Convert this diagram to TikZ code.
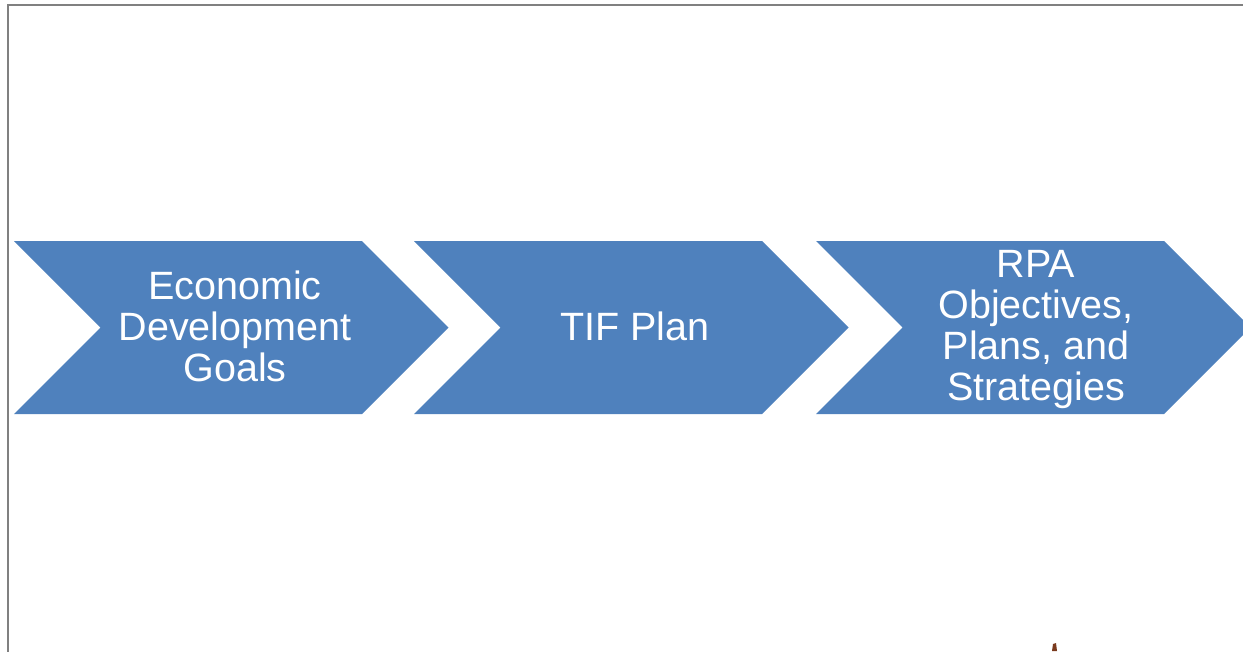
\documentclass[tikz,border=0pt]{standalone}
\usepackage{fontspec}
\setmainfont{Liberation Sans}
\usetikzlibrary{positioning}
\definecolor{chevblue}{HTML}{4F81BD}
\definecolor{framegray}{HTML}{808080}
\definecolor{speck}{HTML}{7A3A1E}

\begin{document}
\begin{tikzpicture}[x=1pt,y=1pt,
  chev/.style={fill=chevblue,draw=none},
  chevtext/.style={text=white,align=center,font=\fontsize{39.5}{41}\selectfont}]
\useasboundingbox (0,0) rectangle (1243,-651);
\clip (0,0) rectangle (1243,-651);
\draw[framegray,line width=2.2] (8,-660) -- (8,-5) -- (1250,-5);

% the three chevrons
\foreach \x in {14,414,816} {
  \fill[chev] (\x,-241) -- ++(348,0) -- ++(86.5,-86.5) -- ++(-86.5,-86.5)
    -- ++(-348,0) -- ++(86.5,86.5) -- cycle;
}

\node[chevtext] (goals)  at (235,-326) {Economic\\Development\\Goals};
\node[chevtext] (tif)    at (635,-326) {TIF Plan};
\node[chevtext] (rpa)    at (1036,-330) {RPA\\Objectives,\\Plans, and\\Strategies};

% small speck at the bottom
\fill[speck] (1052,-651) -- (1053,-644) -- (1056,-643) -- (1057,-651) -- cycle;
\end{tikzpicture}
\end{document}
